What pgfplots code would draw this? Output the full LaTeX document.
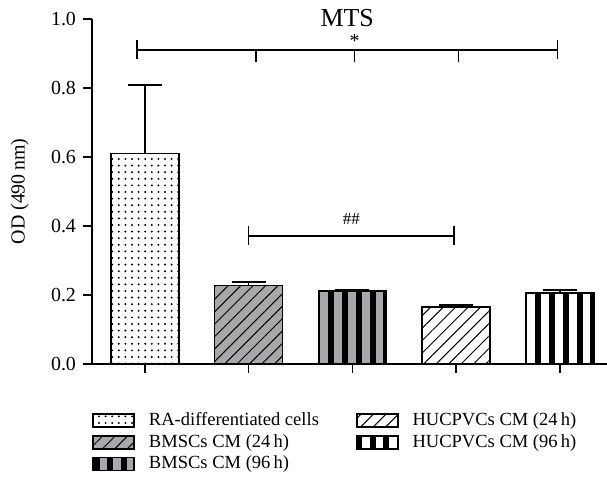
\documentclass[border=0pt]{standalone}
\usepackage{pgfplots}
\pgfplotsset{compat=1.18}
\usetikzlibrary{patterns.meta}
\usepackage{fontspec}
\setmainfont{Liberation Serif}
\definecolor{bgray}{RGB}{168,168,170}
\begin{document}
\begin{tikzpicture}
\useasboundingbox (0,0) rectangle (303.5bp,244.5bp);
\begin{axis}[
  at={(46bp,62.5bp)}, anchor=south west,
  scale only axis, width=257.5bp, height=172.5bp,
  xmin=-0.51, xmax=4.454, ymin=0, ymax=1,
  axis lines=left, axis line style={-, line width=0.8bp},
  ytick={0,0.2,0.4,0.6,0.8,1.0},
  yticklabel style={/pgf/number format/.cd, fixed, fixed zerofill, precision=1},
  /pgf/number format/assume math mode=true,
  xtick={0,1,2,3,4}, xticklabels={},
  tick align=outside, major tick length=4.5bp,
  tick style={line width=0.8bp, black},
  ticklabel style={font=\fontsize{10}{11}\selectfont},
  ylabel={OD (490\,nm)},
  ylabel style={font=\fontsize{9.5}{11}\selectfont},
  every axis y label/.style={at={(axis description cs:-0.14,0.5)}, rotate=90, anchor=center},
  clip=false,
  ybar, bar width=0.655, bar shift=0pt,
  error bars/y dir=plus, error bars/y explicit,
  error bars/error bar style={line width=0.6bp, black},
  error bars/error mark options={line width=1.1bp, mark size=8.5bp, black, rotate=90},
  legend columns=2,
  legend cell align=left,
  legend style={at={(axis description cs:0,-0.128)}, anchor=north west, draw=none, inner sep=0pt,
    font=\fontsize{9.3}{10}\selectfont, row sep=-1.1bp,
    /tikz/every odd column/.append style={column sep=5bp},
    /tikz/every even column/.append style={column sep=16.5bp}},
  legend image code/.code={\draw[#1] (0bp,-3.25bp) rectangle (20.5bp,3.25bp);},
]
\addplot[draw=black, line width=0.8bp, fill=white, postaction={pattern={Dots[distance=3.3bp, radius=0.55bp]}}]
  coordinates {(0,0.610) +- (0,0.198)};
\addlegendentry{RA-differentiated cells}
\addplot[draw=black, line width=0.8bp, fill=white, postaction={pattern={Lines[angle=45, distance=4.4bp, line width=0.5bp]}}]
  coordinates {(3,0.166) +- (0,0.006)};
\addlegendentry{HUCPVCs CM (24\,h)}
\addplot[draw=black, line width=0.8bp, fill=bgray, postaction={pattern={Lines[angle=45, distance=4.4bp, line width=0.5bp]}}]
  coordinates {(1,0.227) +- (0,0.011)};
\addlegendentry{BMSCs CM (24\,h)}
\addplot[draw=black, line width=0.8bp, fill=white, postaction={pattern={Lines[angle=90, distance=6.9bp, line width=3bp]}}]
  coordinates {(4,0.205) +- (0,0.009)};
\addlegendentry{HUCPVCs CM (96\,h)}
\addplot[draw=black, line width=0.8bp, fill=bgray, postaction={pattern={Lines[angle=90, distance=6.9bp, line width=3bp]}}]
  coordinates {(2,0.212) +- (0,0.003)};
\addlegendentry{BMSCs CM (96\,h)}
% significance brackets
\draw[line width=0.8bp] (axis cs:-0.077,0.91) -- (axis cs:3.978,0.91);
\draw[line width=0.8bp] (axis cs:-0.077,0.884) -- (axis cs:-0.077,0.939);
\draw[line width=0.8bp] (axis cs:3.978,0.884) -- (axis cs:3.978,0.939);
\draw[line width=0.6bp] (axis cs:1.07,0.91) -- (axis cs:1.07,0.875);
\draw[line width=0.6bp] (axis cs:2.02,0.91) -- (axis cs:2.02,0.875);
\draw[line width=0.6bp] (axis cs:3.02,0.91) -- (axis cs:3.02,0.875);
\node[font=\fontsize{10}{11}\selectfont] at (axis cs:2.02,0.937) {*};
\node[font=\fontsize{13}{14}\selectfont] at (axis cs:1.95,1.004) {MTS};
\draw[line width=0.8bp] (axis cs:1.0,0.371) -- (axis cs:2.98,0.371);
\draw[line width=0.8bp] (axis cs:1.0,0.345) -- (axis cs:1.0,0.4);
\draw[line width=0.8bp] (axis cs:2.98,0.345) -- (axis cs:2.98,0.4);
\node[font=\fontsize{8.5}{9}\selectfont] at (axis cs:1.99,0.419) {\#\#};
\end{axis}
\end{tikzpicture}
\end{document}
